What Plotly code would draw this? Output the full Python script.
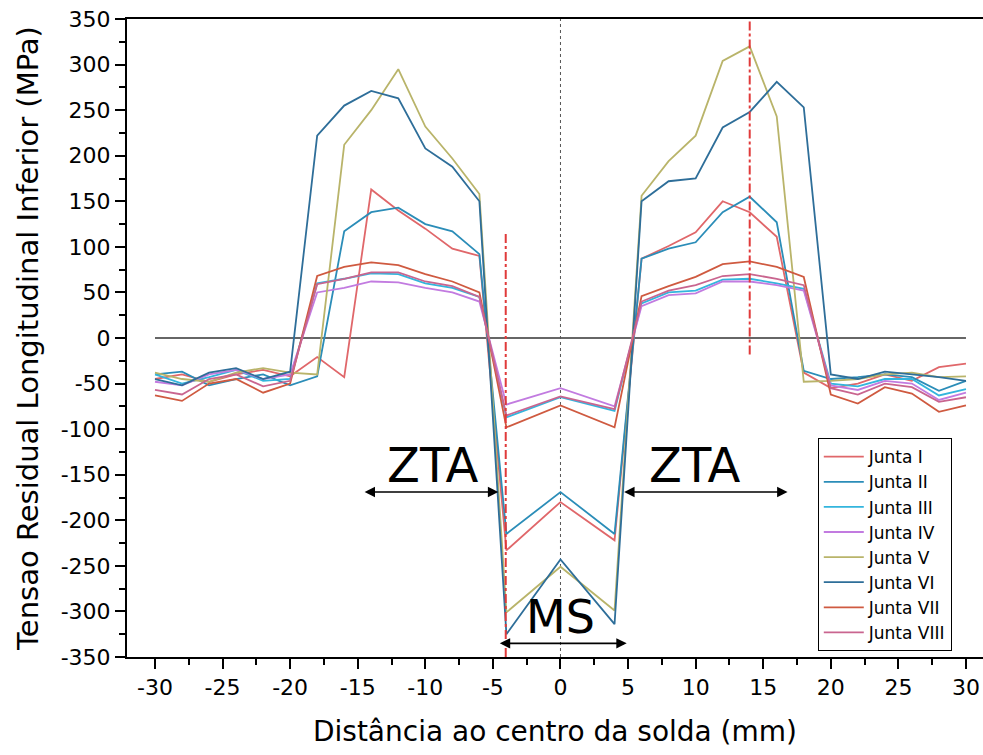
import plotly.graph_objects as go

# distance from weld centre (mm)
x_mm = [-30, -28, -26, -24, -22, -20, -18, -16, -14, -12, -10, -8, -6, -4, 0, 4,
        6, 8, 10, 12, 14, 16, 18, 20, 22, 24, 26, 28, 30]

junta_I = [-45, -40, -48, -40, -35, -42, -21, -43, 163, 140, 120, 98, 90, -233, -180, -222,
           87, 101, 116, 150, 138, 111, -38, -55, -50, -40, -47, -32, -28]
junta_II = [-40, -37, -52, -45, -40, -52, -42, 117, 138, 143, 125, 117, 92, -215, -169, -215,
            87, 98, 105, 138, 155, 127, -36, -45, -43, -40, -43, -58, -47]
junta_III = [-40, -50, -43, -35, -47, -45, 60, 65, 71, 70, 60, 55, 45, -87, -65, -80,
             38, 50, 52, 64, 65, 60, 54, -50, -53, -45, -45, -63, -56]
junta_IV = [-48, -52, -40, -35, -45, -40, 50, 55, 62, 61, 55, 50, 40, -73, -55, -75,
            35, 47, 49, 62, 62, 58, 52, -52, -57, -47, -50, -68, -60]
junta_V = [-38, -45, -48, -38, -33, -38, -40, 212, 250, 295, 232, 197, 158, -301, -251, -299,
           156, 194, 222, 304, 320, 243, -48, -47, -45, -40, -38, -43, -42]
junta_VI = [-45, -52, -38, -33, -45, -37, 222, 255, 271, 263, 208, 188, 150, -325, -243, -314,
            150, 172, 175, 231, 248, 281, 253, -40, -45, -37, -40, -43, -47]
junta_VII = [-63, -69, -50, -45, -60, -50, 68, 78, 83, 80, 70, 62, 50, -98, -74, -98,
             46, 57, 67, 81, 84, 78, 67, -62, -72, -54, -61, -81, -74]
junta_VIII = [-57, -62, -45, -40, -53, -47, 59, 65, 72, 72, 62, 57, 45, -85, -64, -78,
              40, 52, 58, 68, 70, 65, 58, -55, -62, -50, -54, -70, -65]

series_names = ["Junta I", "Junta II", "Junta III", "Junta IV",
                "Junta V", "Junta VI", "Junta VII", "Junta VIII"]
series_values = [junta_I, junta_II, junta_III, junta_IV,
                 junta_V, junta_VI, junta_VII, junta_VIII]
series_colors = ["#e0676a", "#2b8db8", "#33b5dd", "#c27be0",
                 "#b9b46a", "#2e6e99", "#cf5a40", "#c9658f"]

x_ticks = [-30, -25, -20, -15, -10, -5, 0, 5, 10, 15, 20, 25, 30]
x_tick_labels = ["-30", "-25", "-20", "-15", "-10", "-5", "0", "5", "10", "15", "20", "25", "30"]
y_ticks = [-350, -300, -250, -200, -150, -100, -50, 0, 50, 100, 150, 200, 250, 300, 350]
y_tick_labels = ["-350", "-300", "-250", "-200", "-150", "-100", "-50", "0",
                 "50", "100", "150", "200", "250", "300", "350"]

FONT = "DejaVu Sans"

fig = go.Figure()
for name, vals, col in zip(series_names, series_values, series_colors):
    fig.add_trace(go.Scatter(x=x_mm, y=vals, mode="lines", name=name,
                             line=dict(color=col, width=1.8)))

shapes = [
    dict(type="line", xref="x", yref="y", x0=-30, x1=30, y0=0, y1=0,
         line=dict(color="#333333", width=1.3), layer="below"),
    dict(type="line", xref="x", yref="y", x0=0, x1=0, y0=-350, y1=350,
         line=dict(color="#555555", width=1, dash="dot"), layer="below"),
    dict(type="line", xref="x", yref="y", x0=-4.05, x1=-4.05, y0=-350, y1=116,
         line=dict(color="#e03a3a", width=2, dash="dashdot")),
    dict(type="line", xref="x", yref="y", x0=14, x1=14, y0=-18, y1=350,
         line=dict(color="#e03a3a", width=2, dash="dashdot")),
]

annotations = [
    dict(text="ZTA", x=-9.5, y=-139, xref="x", yref="y", showarrow=False,
         font=dict(family=FONT, size=48, color="black")),
    dict(text="ZTA", x=9.9, y=-139, xref="x", yref="y", showarrow=False,
         font=dict(family=FONT, size=48, color="black")),
    dict(text="MS", x=0.0, y=-306, xref="x", yref="y", showarrow=False,
         font=dict(family=FONT, size=46, color="black")),
    dict(x=-4.6, y=-169, ax=-14.6, ay=-169, xref="x", yref="y", axref="x", ayref="y",
         showarrow=True, arrowhead=2, startarrowhead=2, arrowside="end+start",
         arrowsize=1.3, startarrowsize=1.3, arrowwidth=1.6, arrowcolor="black", text=""),
    dict(x=16.8, y=-169, ax=4.6, ay=-169, xref="x", yref="y", axref="x", ayref="y",
         showarrow=True, arrowhead=2, startarrowhead=2, arrowside="end+start",
         arrowsize=1.3, startarrowsize=1.3, arrowwidth=1.6, arrowcolor="black", text=""),
    dict(x=4.9, y=-335, ax=-4.6, ay=-335, xref="x", yref="y", axref="x", ayref="y",
         showarrow=True, arrowhead=2, startarrowhead=2, arrowside="end+start",
         arrowsize=1.3, startarrowsize=1.3, arrowwidth=1.6, arrowcolor="black", text=""),
]

fig.update_layout(
    width=983, height=755,
    margin=dict(l=127, r=0, t=19, b=98),
    paper_bgcolor="white", plot_bgcolor="white",
    font=dict(family=FONT, color="black"),
    shapes=shapes, annotations=annotations,
    legend=dict(x=0.807, y=0.343, xanchor="left", yanchor="top",
                bgcolor="white", bordercolor="black", borderwidth=1,
                font=dict(family=FONT, size=17, color="black"),
                tracegroupgap=0, itemwidth=40),
    showlegend=True,
)
fig.update_xaxes(range=[-32.07, 31.26], tickvals=x_ticks, ticktext=x_tick_labels,
                 ticks="outside", ticklen=10, automargin=False, ticklabeloverflow="allow",
                 tickwidth=2, tickcolor="black", showline=True, linecolor="black",
                 linewidth=2, mirror=True, showgrid=False, zeroline=False,
                 tickfont=dict(family=FONT, size=22),
                 minor=dict(dtick=2.5, ticks="outside", ticklen=6, tickwidth=2,
                            tickcolor="black", showgrid=False),
                 title=dict(text="Distância ao centro da solda (mm)",
                            font=dict(family=FONT, size=28), standoff=22))
fig.update_yaxes(range=[-350, 350], tickvals=y_ticks, ticktext=y_tick_labels,
                 ticks="outside", ticklen=10, automargin=False, ticklabeloverflow="allow",
                 tickwidth=2, tickcolor="black", showline=True, linecolor="black",
                 linewidth=2, showgrid=False, zeroline=False,
                 tickfont=dict(family=FONT, size=22),
                 minor=dict(dtick=25, ticks="outside", ticklen=6, tickwidth=2,
                            tickcolor="black", showgrid=False),
                 title=dict(text="Tensao Residual Longitudinal Inferior (MPa)",
                            font=dict(family=FONT, size=29), standoff=14))

# remove the page's default body margin so the figure fills the window exactly
fig.write_html("out.html", config={"displayModeBar": False},
               post_script="document.body.style.margin='0';document.body.style.overflow='hidden';")
